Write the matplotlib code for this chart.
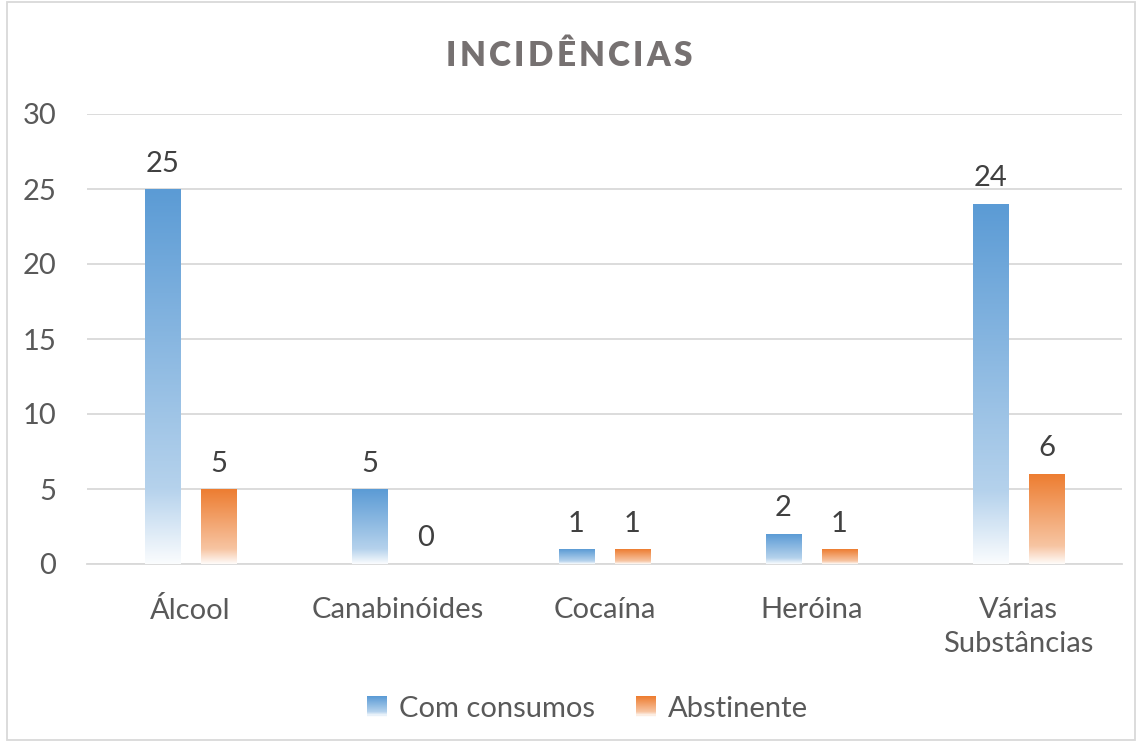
import numpy as np
import matplotlib
matplotlib.use("Agg")
import matplotlib.pyplot as plt
from matplotlib.colors import to_rgb
from matplotlib.patches import Rectangle
from matplotlib.legend_handler import HandlerBase

plt.rcParams['font.family'] = ['Lato', 'DejaVu Sans']

categories = ["Álcool", "Canabinóides", "Cocaína", "Heróina", "Várias\nSubstâncias"]
com_consumos = [25, 5, 1, 2, 24]
abstinente = [5, 0, 1, 1, 6]
series_names = ["Com consumos", "Abstinente"]
series_colors = ["#5B9BD5", "#ED7D31"]
title = "INCIDÊNCIAS"


def gradient_colors(base, n=200):
    # top = base colour, fading to near-white at the bottom (Excel-like gradient)
    base = np.array(to_rgb(base))
    white = np.array([1.0, 1.0, 1.0])
    t = np.linspace(0, 1, n)  # 0 = top, 1 = bottom
    mix = np.where(t < 0.8, 0.55 * t / 0.8, 0.55 + 0.42 * (t - 0.8) / 0.2)
    cols = base[None, :] * (1 - mix[:, None]) + white[None, :] * mix[:, None]
    return cols


def grad_bar(ax, x, width, height, color):
    if height <= 0:
        return
    img = gradient_colors(color)[:, None, :]
    ax.imshow(img, extent=[x - width / 2, x + width / 2, 0, height],
              aspect='auto', origin='upper', zorder=3, interpolation='bilinear')


class GradientHandler(HandlerBase):
    def __init__(self, color):
        super().__init__()
        self.color = color

    def create_artists(self, legend, orig_handle, xdescent, ydescent,
                       width, height, fontsize, trans):
        cols = gradient_colors(self.color, 20)
        n = len(cols)
        size = height * 1.0
        x0 = xdescent + width - size
        arts = []
        for i, c in enumerate(cols):
            y = -ydescent + size * (1 - (i + 1) / n) - (size - height) / 2
            r = Rectangle((x0, y), size, size / n + 0.05, facecolor=c,
                          edgecolor='none', transform=trans)
            arts.append(r)
        return arts


fig = plt.figure(figsize=(11.38, 7.42), dpi=100)
ax = fig.add_axes([87 / 1138, (742 - 564) / 742, (1122 - 87) / 1138, 450 / 742])

x = np.arange(len(categories))
bw = 0.17
off = 0.135
for i in range(len(categories)):
    grad_bar(ax, x[i] - off, bw, com_consumos[i], series_colors[0])
    grad_bar(ax, x[i] + off, bw, abstinente[i], series_colors[1])
    for xv, v in ((x[i] - off, com_consumos[i]), (x[i] + off, abstinente[i])):
        ax.annotate(str(v), (xv, v), xytext=(0, 9), textcoords='offset points',
                    ha='center', va='bottom', fontsize=21, color='#404040')

ax.set_xlim(-0.5, len(categories) - 0.5)
ax.set_ylim(0, 30)
ax.set_yticks(np.arange(0, 31, 5))
ax.set_xticks(x)
ax.set_xticklabels(categories, linespacing=1.35)
ax.tick_params(axis='both', length=0, labelsize=21, colors='#595959')
ax.tick_params(axis='x', pad=24)
ax.tick_params(axis='y', pad=22)
ax.grid(axis='y', color='#D9D9D9', linewidth=1.3, zorder=0)
ax.set_axisbelow(True)
for s in ['top', 'right', 'left']:
    ax.spines[s].set_visible(False)
ax.spines['bottom'].set_color('#D9D9D9')
ax.spines['bottom'].set_linewidth(1.3)

# title with letter spacing, drawn letter by letter
renderer = fig.canvas.get_renderer()
tracking = 3.3  # extra px between letters
letters = []
widths = []
for ch in title:
    t = fig.text(0, 0.925, ch, ha='left', va='center', fontsize=24,
                 fontweight='heavy', color='#767171')
    letters.append(t)
    widths.append(t.get_window_extent(renderer).width)
total = sum(widths) + tracking * (len(title) - 1)
fig_w = fig.get_figwidth() * fig.dpi
xpos = fig_w / 2 - total / 2
for t, w in zip(letters, widths):
    t.set_x(xpos / fig_w)
    xpos += w + tracking

h1 = Rectangle((0, 0), 1, 1)
h2 = Rectangle((0, 0), 1, 1)
fig.legend([h1, h2], series_names, loc='center', bbox_to_anchor=(0.516, 0.045),
           ncol=2, frameon=False, fontsize=21, labelcolor='#595959',
           handler_map={h1: GradientHandler(series_colors[0]),
                        h2: GradientHandler(series_colors[1])},
           handlelength=0.7, handletextpad=0.4, columnspacing=1.4)

fig.patches.append(Rectangle((0.006, 0.003), 0.991, 0.994, transform=fig.transFigure,
                             fill=False, edgecolor='#D9D9D9', linewidth=1.3))

fig.savefig("out.png", dpi=100, facecolor='white')
